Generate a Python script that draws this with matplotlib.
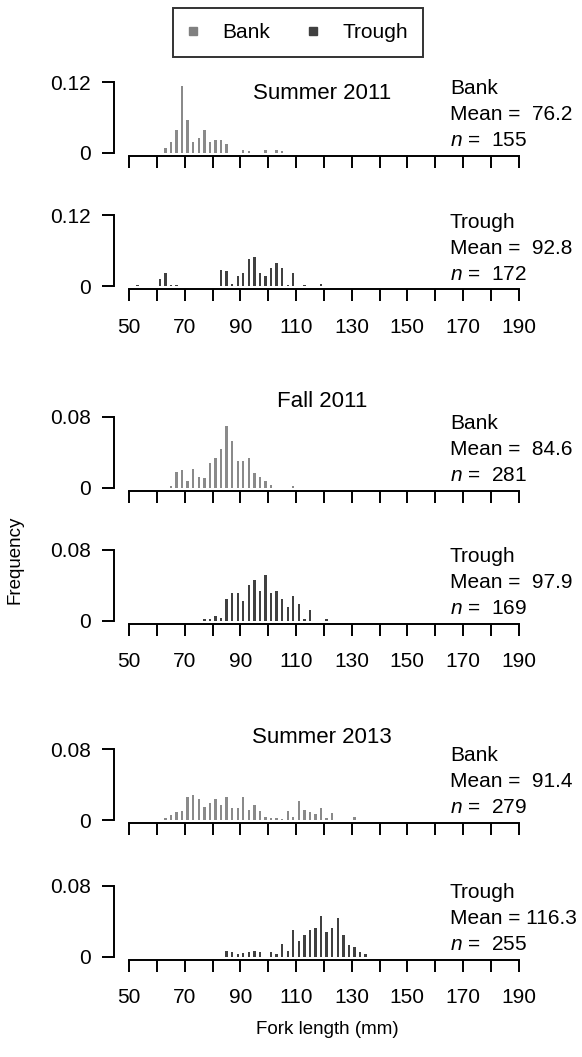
import matplotlib
matplotlib.use("Agg")
import matplotlib.pyplot as plt
from matplotlib.lines import Line2D

plt.rcParams["font.family"] = ["Liberation Sans", "DejaVu Sans"]
plt.rcParams["mathtext.fontset"] = "custom"
plt.rcParams["mathtext.rm"] = "Liberation Sans"
plt.rcParams["mathtext.it"] = "Liberation Sans:italic"

# ---- data (fork length bin centres in mm, frequency) ----
s11_bank_x = [63, 65, 67, 69, 71, 73, 75, 77, 79, 81, 83, 85, 91, 93, 99, 103, 105]
s11_bank_y = [0.0085, 0.019, 0.039, 0.114, 0.055, 0.019, 0.025, 0.039, 0.019,
              0.022, 0.022, 0.016, 0.0056, 0.003, 0.0056, 0.0056, 0.003]

s11_trough_x = [53, 61, 63, 65, 67, 83, 85, 87, 89, 91, 93, 95, 97, 99, 101,
                103, 105, 107, 109, 113, 119]
s11_trough_y = [0.002, 0.0124, 0.0225, 0.002, 0.002, 0.0287, 0.026, 0.005, 0.017,
                0.0225, 0.047, 0.050, 0.0225, 0.017, 0.0315, 0.040, 0.0315, 0.002,
                0.0225, 0.002, 0.005]

f11_bank_x = [65, 67, 69, 71, 73, 75, 77, 79, 81, 83, 85, 87, 89, 91, 93, 95,
              97, 99, 101, 109]
f11_bank_y = [0.0015, 0.0178, 0.0197, 0.007, 0.021, 0.0123, 0.0104, 0.028, 0.033,
              0.044, 0.0695, 0.053, 0.030, 0.030, 0.033, 0.016, 0.0123, 0.007,
              0.0035, 0.0015]

f11_trough_x = [77, 79, 81, 83, 85, 87, 89, 91, 93, 95, 97, 99, 101, 103, 105,
                107, 109, 111, 113, 115, 121]
f11_trough_y = [0.0015, 0.0015, 0.0057, 0.0027, 0.024, 0.031, 0.031, 0.022, 0.040,
                0.046, 0.034, 0.052, 0.031, 0.034, 0.025, 0.016, 0.028, 0.019,
                0.0015, 0.0126, 0.0015]

s13_bank_x = [63, 65, 67, 69, 71, 73, 75, 77, 79, 81, 83, 85, 87, 89, 91, 93, 95,
              97, 99, 101, 103, 105, 107, 109, 111, 113, 115, 117, 119, 121, 123, 131]
s13_bank_y = [0.002, 0.0058, 0.0085, 0.0096, 0.026, 0.028, 0.024, 0.015, 0.019,
              0.024, 0.017, 0.026, 0.013, 0.013, 0.026, 0.011, 0.0165, 0.0096,
              0.003, 0.002, 0.002, 0.001, 0.0096, 0.003, 0.021, 0.0115, 0.0085,
              0.007, 0.013, 0.0027, 0.0077, 0.0038]

s13_trough_x = [85, 87, 89, 91, 93, 95, 97, 101, 103, 105, 107, 109, 111, 113, 115,
                117, 119, 121, 123, 125, 127, 129, 131, 133, 135]
s13_trough_y = [0.0066, 0.0048, 0.003, 0.004, 0.0055, 0.0066, 0.0048, 0.0048, 0.003,
                0.0147, 0.0066, 0.030, 0.018, 0.024, 0.030, 0.032, 0.046, 0.028,
                0.032, 0.044, 0.024, 0.0128, 0.011, 0.0048, 0.003]

site_names = ["Bank", "Trough", "Bank", "Trough", "Bank", "Trough"]
means = ["76.2", "92.8", "84.6", "97.9", "91.4", "116.3"]
counts = ["155", "172", "281", "169", "279", "255"]
ymaxes = [0.12, 0.12, 0.08, 0.08, 0.08, 0.08]
ytick_labels = [["0", "0.12"], ["0", "0.12"], ["0", "0.08"], ["0", "0.08"],
                ["0", "0.08"], ["0", "0.08"]]
season_titles = ["Summer 2011", "Fall 2011", "Summer 2013"]
xtick_labels = ["50", "70", "90", "110", "130", "150", "170", "190"]

panels = [(s11_bank_x, s11_bank_y), (s11_trough_x, s11_trough_y),
          (f11_bank_x, f11_bank_y), (f11_trough_x, f11_trough_y),
          (s13_bank_x, s13_bank_y), (s13_trough_x, s13_trough_y)]

bank_col = "#8a8a8a"
trough_col = "#404040"
fs = 15

W, H = 582, 1057
fig = plt.figure(figsize=(W / 100, H / 100), dpi=100)

# pixel row of the zero line of each panel, height of 0..ymax in pixels
zero_px = [153, 286.5, 487.7, 620.7, 820, 956.7]
span = 71
left_px, right_px = 113.7, 534.1

for i, (xs, ys) in enumerate(panels):
    bot = zero_px[i] + 0.04 * span
    hgt = 1.08 * span
    ax = fig.add_axes([left_px / W, 1 - bot / H, (right_px - left_px) / W, hgt / H])
    col = bank_col if i % 2 == 0 else trough_col
    ax.bar(xs, ys, width=0.85, color=col, linewidth=0)
    ym = ymaxes[i]
    ax.set_xlim(44.4, 195.6)
    ax.set_ylim(-0.04 * ym, 1.04 * ym)
    for s in ["top", "right"]:
        ax.spines[s].set_visible(False)
    ax.spines["left"].set_bounds(0, ym)
    ax.spines["bottom"].set_bounds(50, 190)
    ax.spines["left"].set_linewidth(1.4)
    ax.spines["bottom"].set_linewidth(1.4)
    ax.set_yticks([0, ym])
    ax.set_yticklabels(ytick_labels[i], fontsize=fs)
    ax.set_xticks(range(50, 191, 10))
    ax.set_xticklabels([xtick_labels[j // 2] if j % 2 == 0 else "" for j in range(15)],
                       fontsize=fs)
    ax.tick_params(axis="both", direction="out", length=8.5, width=1.4)
    ax.tick_params(axis="y", pad=8)
    ax.tick_params(axis="x", pad=12, labelbottom=(i % 2 == 1))

    # right-hand annotation (baselines)
    z = zero_px[i]
    fig.text(450 / W, 1 - (z - 59) / H, site_names[i], fontsize=fs, va="baseline")
    fig.text(450 / W, 1 - (z - 33) / H, "Mean = " + means[i].rjust(5), fontsize=fs,
             va="baseline")
    fig.text(450 / W, 1 - (z - 7) / H, "$n$ =  " + counts[i], fontsize=fs,
             va="baseline")

title_base = [99.3, 406.7, 743]
for t, yb in zip(season_titles, title_base):
    fig.text(322 / W, 1 - yb / H, t, fontsize=16, ha="center", va="baseline")

fig.text(15 / W, 1 - 560 / H, "Frequency", fontsize=13.5, rotation=90,
         ha="center", va="center")
fig.text(327 / W, 1 - 1030 / H, "Fork length (mm)", fontsize=13.5,
         ha="center", va="center")

handles = [Line2D([], [], marker="s", linestyle="none", color="#808080", markersize=6),
           Line2D([], [], marker="s", linestyle="none", color=trough_col, markersize=6)]
leg = fig.legend(handles, ["Bank", "Trough"], ncol=2, loc="center",
                 bbox_to_anchor=(298 / W, 1 - 32.3 / H), fontsize=15,
                 frameon=True, fancybox=False, edgecolor="black",
                 handlelength=0.5, handletextpad=1.15, columnspacing=1.8,
                 borderpad=0.72)
leg.get_frame().set_linewidth(1.4)

fig.savefig("out.png", dpi=100)
